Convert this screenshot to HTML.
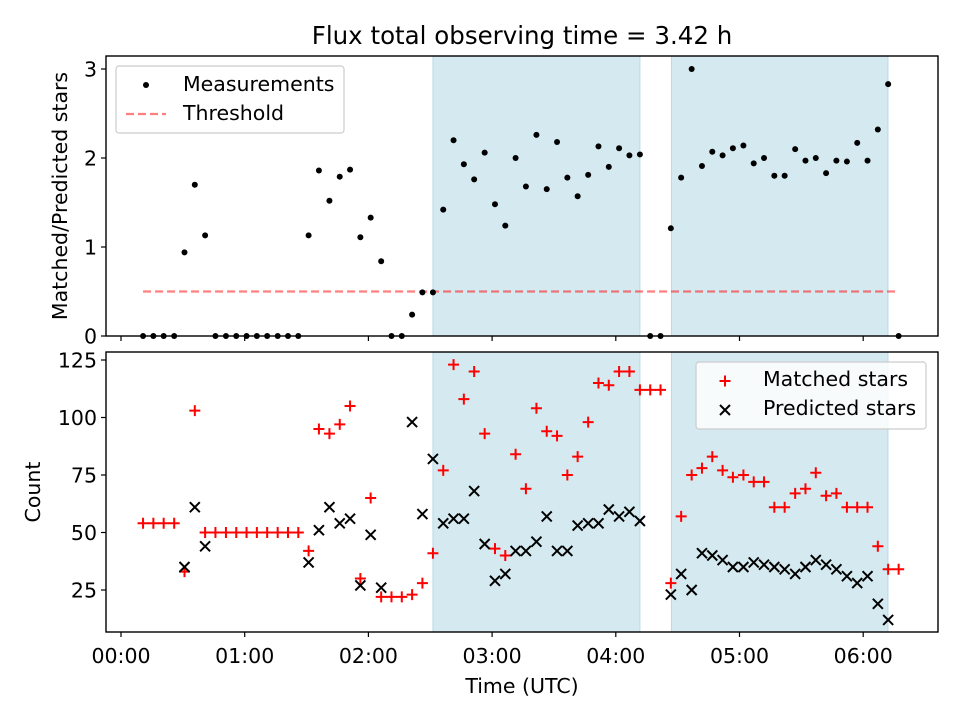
<!DOCTYPE html>
<html><head><meta charset="utf-8"><style>
body{margin:0;background:#fff;}
svg text{font-family:"DejaVu Sans","Liberation Sans",sans-serif;fill:#000;}
</style></head><body>
<svg id="chart" width="960" height="720" xmlns="http://www.w3.org/2000/svg">
<rect width="960" height="720" fill="#fff"/>
<text x="522" y="44" font-size="24.5" text-anchor="middle">Flux total observing time = 3.42 h</text>
<g id="gtop"></g><g id="gbot"></g>
<text x="522" y="693" font-size="20.5" text-anchor="middle">Time (UTC)</text>
<text transform="translate(67,196) rotate(-90)" font-size="20.5" text-anchor="middle">Matched/Predicted stars</text>
<text transform="translate(40,492) rotate(-90)" font-size="20.5" text-anchor="middle">Count</text>
</svg>
<script>
const timesMin=[10.7,15.7,20.7,25.8,30.8,35.8,40.8,45.8,50.9,55.9,60.9,65.9,70.9,76.0,81.0,86.0,91.0,96.0,101.1,106.1,111.1,116.1,121.1,126.2,131.2,136.2,141.2,146.2,151.3,156.3,161.3,166.3,171.3,176.4,181.4,186.4,191.4,196.4,201.5,206.5,211.5,216.5,221.5,226.6,231.6,236.6,241.6,246.6,251.7,256.7,261.7,266.7,271.7,276.8,281.8,286.8,291.8,296.8,301.9,306.9,311.9,316.9,321.9,327.0,332.0,337.0,342.0,347.0,352.1,357.1,362.1,367.1,372.1,377.2];
const ratio=[0,0,0,0,0.94,1.70,1.13,0,0,0,0,0,0,0,0,0,1.13,1.86,1.52,1.79,1.87,1.11,1.33,0.84,0,0,0.24,0.49,0.49,1.42,2.2,1.93,1.76,2.06,1.48,1.24,2.0,1.68,2.26,1.65,2.18,1.78,1.57,1.81,2.13,1.9,2.11,2.03,2.04,0,0,1.21,1.78,3.0,1.91,2.07,2.03,2.11,2.14,1.94,2.0,1.8,1.8,2.1,1.97,2.0,1.83,1.97,1.96,2.17,1.97,2.32,2.83,0];
const matched=[54,54,54,54,33,103,50,50,50,50,50,50,50,50,50,50,42,95,93,97,105,30,65,22,22,22,23,28,41,77,123,108,120,93,43,40,84,69,104,94,92,75,83,98,115,114,120,120,112,112,112,28,57,75,78,83,77,74,75,72,72,61,61,67,69,76,66,67,61,61,61,44,34,34];
const predicted=[null,null,null,null,35,61,44,null,null,null,null,null,null,null,null,null,37,51,61,54,56,27,49,26,null,null,98,58,82,54,56,56,68,45,29,32,42,42,46,57,42,42,53,54,54,60,57,59,55,null,null,23,32,25,41,40,38,35,35,37,36,35,34,32,35,38,36,34,31,28,31,19,12,null];
const threshold=0.5;
const spans=[[151.3,251.7],[267.0,372.0]];
const xTickLabels=["00:00","01:00","02:00","03:00","04:00","05:00","06:00"];
const topTicks=[0,1,2,3];
const botTicks=[25,50,75,100,125];

const NS="http://www.w3.org/2000/svg";
const L=106,R=938;
const X=m=>121+m/60*123.7;
const YT=v=>336-v*89;
const YB=v=>590-(v-25)*2.3;
function mk(p,tag,a){const e=document.createElementNS(NS,tag);for(const k in a)e.setAttribute(k,a[k]);p.appendChild(e);return e;}
const gTop=document.getElementById('gtop'),gBot=document.getElementById('gbot');
const FS=20.5;

function panel(g,y0,y1,name){
  spans.forEach((s,i)=>{
    const r=mk(g,'rect',{x:X(s[0]),y:y0,width:X(s[1])-X(s[0]),height:y1-y0,fill:'#d4eaf0',stroke:'#b5dbe6','stroke-width':1});
    
    
  });
  xTickLabels.forEach((t,i)=>{
    const x=X(i*60);
    const tk=mk(g,'line',{x1:x,x2:x,y1:y1,y2:y1+5,stroke:'#000','stroke-width':1.2});
    
    
  });
}
panel(gTop,56,336,'top');
panel(gBot,352,632,'bottom');

const th=mk(gTop,'line',{x1:X(timesMin[0]),x2:X(timesMin[timesMin.length-1]),y1:YT(threshold),y2:YT(threshold),stroke:'rgba(255,0,0,0.5)','stroke-width':2.2,'stroke-dasharray':'8,4'});



ratio.forEach((v,i)=>{
  const c=mk(gTop,'circle',{cx:X(timesMin[i]),cy:YT(v),r:3,fill:'#000'});
  
  
});
function plus(g,x,y,s){return mk(g,'path',{d:`M${x-s},${y}H${x+s}M${x},${y-s}V${y+s}`,stroke:'#f00','stroke-width':2,fill:'none'});}
function cross(g,x,y,s){return mk(g,'path',{d:`M${x-s},${y-s}L${x+s},${y+s}M${x-s},${y+s}L${x+s},${y-s}`,stroke:'#000','stroke-width':2,fill:'none'});}
matched.forEach((v,i)=>{
  const p=plus(gBot,X(timesMin[i]),YB(v),5.5);
  
  
});
predicted.forEach((v,i)=>{
  if(v===null)return;
  const p=cross(gBot,X(timesMin[i]),YB(v),5);
  
  
});

[[gTop,56,336],[gBot,352,632]].forEach(([g,y0,y1])=>{
  const f=mk(g,'rect',{x:L,y:y0,width:R-L,height:y1-y0,fill:'none',stroke:'#000','stroke-width':1.4});
  
  
});
topTicks.forEach(v=>{
  const y=YT(v);
  mk(gTop,'line',{x1:L-5,x2:L,y1:y,y2:y,stroke:'#000','stroke-width':1.2});
  const t=mk(gTop,'text',{x:L-9,y:y+7.5,'font-size':FS,'text-anchor':'end'});t.textContent=v;
  
  
});
botTicks.forEach(v=>{
  const y=YB(v);
  mk(gBot,'line',{x1:L-5,x2:L,y1:y,y2:y,stroke:'#000','stroke-width':1.2});
  const t=mk(gBot,'text',{x:L-9,y:y+7.5,'font-size':FS,'text-anchor':'end'});t.textContent=v;
  
  
});
xTickLabels.forEach((s,i)=>{
  const t=mk(gBot,'text',{x:X(i*60),y:663,'font-size':FS,'text-anchor':'middle'});t.textContent=s;
  
  
});

const lg1=mk(gTop,'g',{});


mk(lg1,'rect',{x:116,y:66,width:228,height:67,rx:3,fill:'rgba(255,255,255,0.8)',stroke:'#ccc','stroke-width':1.2});
mk(lg1,'circle',{cx:146,cy:85,r:3,fill:'#000'});
mk(lg1,'line',{x1:126,x2:166,y1:114,y2:114,stroke:'rgba(255,0,0,0.5)','stroke-width':2.2,'stroke-dasharray':'8,4'});
let t=mk(lg1,'text',{x:183,y:91,'font-size':FS});t.textContent='Measurements';
t=mk(lg1,'text',{x:183,y:120,'font-size':FS});t.textContent='Threshold';

const lg2=mk(gBot,'g',{});


mk(lg2,'rect',{x:696,y:362,width:230,height:67,rx:3,fill:'rgba(255,255,255,0.8)',stroke:'#ccc','stroke-width':1.2});
plus(lg2,725,381,5.5);
cross(lg2,725,410,5);
t=mk(lg2,'text',{x:763,y:386,'font-size':FS});t.textContent='Matched stars';
t=mk(lg2,'text',{x:763,y:415,'font-size':FS});t.textContent='Predicted stars';
</script>
</body></html>
